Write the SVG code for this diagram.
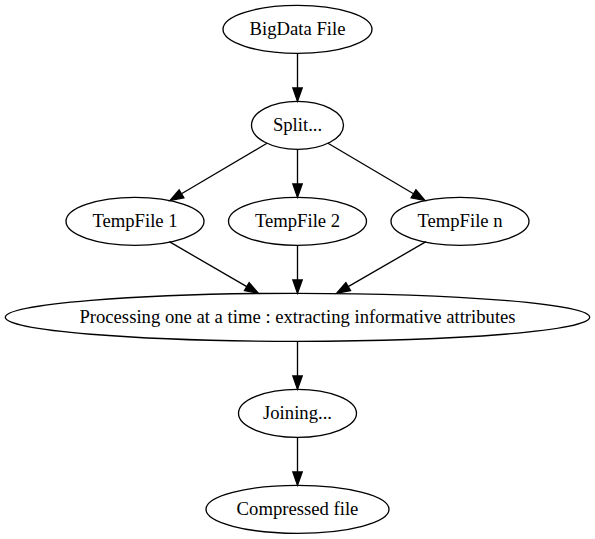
<svg xmlns="http://www.w3.org/2000/svg" width="595" height="539" viewBox="0 0 595 539">
<style>
.n ellipse{fill:none;stroke:#000;stroke-width:1.33}
.n text{font-family:"Liberation Serif","Times New Roman",serif;font-size:18.67px;text-anchor:middle;fill:#000}
#edges line{stroke:#000;stroke-width:1.33;marker-end:url(#ah)}
</style>
<defs>
<marker id="ah" markerUnits="userSpaceOnUse" markerWidth="16" markerHeight="12" refX="0" refY="4.67" orient="auto" overflow="visible">
<path d="M0,0 L13.33,4.67 L0,9.33 Z" fill="#000" stroke="#000" stroke-width="1.33"/>
</marker>
</defs>
<rect width="595" height="539" fill="#fff"/>
<g id="edges">
<line x1="297.5" y1="53.3" x2="297.5" y2="88"/>
<line x1="267" y1="143.3" x2="181.5" y2="193.8"/>
<line x1="297.5" y1="149.3" x2="297.5" y2="184"/>
<line x1="328" y1="143.3" x2="413.5" y2="193.8"/>
<line x1="169.3" y1="241.7" x2="246.8" y2="286.6"/>
<line x1="297.5" y1="245.3" x2="297.5" y2="280"/>
<line x1="426" y1="241.7" x2="348.2" y2="286.6"/>
<line x1="297.5" y1="341.3" x2="297.5" y2="376"/>
<line x1="297.5" y1="437.3" x2="297.5" y2="472"/>
</g>
<g id="bigdata" class="n"><ellipse cx="297.5" cy="29.3" rx="74.5" ry="24"/><text x="297.5" y="34.9">BigData File</text></g>
<g id="split" class="n"><ellipse cx="297.5" cy="125.3" rx="46" ry="24"/><text x="297.5" y="130.9">Split...</text></g>
<g id="temp1" class="n"><ellipse cx="135" cy="221.3" rx="69" ry="24"/><text x="135" y="226.9">TempFile 1</text></g>
<g id="temp2" class="n"><ellipse cx="297.5" cy="221.3" rx="69" ry="24"/><text x="297.5" y="226.9">TempFile 2</text></g>
<g id="tempn" class="n"><ellipse cx="460" cy="221.3" rx="69" ry="24"/><text x="460" y="226.9">TempFile n</text></g>
<g id="processing" class="n"><ellipse cx="297.5" cy="317.3" rx="292.2" ry="24"/><text x="297.5" y="322.9">Processing one at a time : extracting informative attributes</text></g>
<g id="joining" class="n"><ellipse cx="297.5" cy="413.3" rx="59" ry="24"/><text x="297.5" y="418.9">Joining...</text></g>
<g id="compressed" class="n"><ellipse cx="297.5" cy="509.3" rx="91.5" ry="24"/><text x="297.5" y="514.9">Compressed file</text></g>
</svg>
